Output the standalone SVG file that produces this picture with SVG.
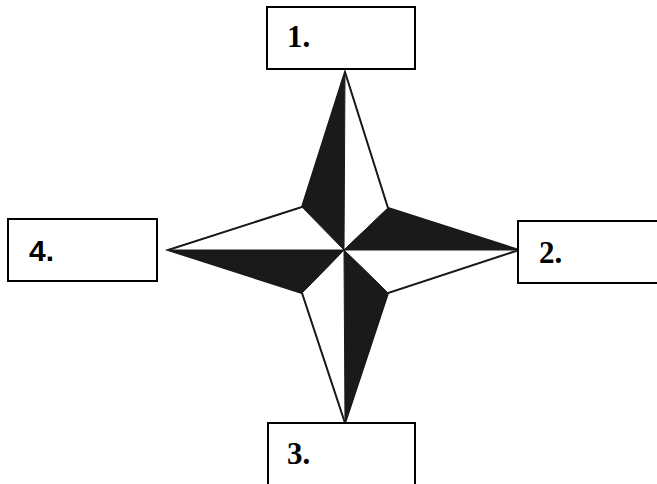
<svg xmlns="http://www.w3.org/2000/svg" width="657" height="484" viewBox="0 0 657 484">
<style>
.box{fill:#fff;stroke:#000;stroke-width:2}
.blk{fill:#1a1a1a;stroke:#1a1a1a;stroke-width:1;stroke-linejoin:round}
.wht{fill:#fff;stroke:#1a1a1a;stroke-width:1;stroke-linejoin:round}
.out{fill:none;stroke:#1a1a1a;stroke-width:2;stroke-linejoin:miter}
</style>
<rect width="657" height="484" fill="#fff"/>
<g id="star">
<polygon class="blk" points="344,250 345,72 302,207"/>
<polygon class="wht" points="344,250 345,72 388,208"/>
<polygon class="blk" points="344,250 519,250 388,208"/>
<polygon class="wht" points="344,250 519,250 388,293"/>
<polygon class="blk" points="344,250 345,423 388,293"/>
<polygon class="wht" points="344,250 345,423 302,293"/>
<polygon class="blk" points="344,250 168,250 302,293"/>
<polygon class="wht" points="344,250 168,250 302,207"/>
<polygon class="out" points="345,72 388,208 519,250 388,293 345,423 302,293 168,250 302,207"/>
</g>
<g id="node1">
<rect class="box" x="267" y="7" width="148" height="62"/>
<text x="287" y="47" font-family="Liberation Serif, Times New Roman, serif" font-weight="bold" font-size="31" fill="#000">1.</text>
</g>
<g id="node2">
<rect class="box" x="518" y="221" width="150" height="62"/>
<text x="539" y="263" font-family="Liberation Serif, Times New Roman, serif" font-weight="bold" font-size="31" fill="#000">2.</text>
</g>
<g id="node3">
<rect class="box" x="268" y="423" width="147" height="70"/>
<text x="287" y="464" font-family="Liberation Serif, Times New Roman, serif" font-weight="bold" font-size="31" fill="#000">3.</text>
</g>
<g id="node4">
<rect class="box" x="8" y="219" width="149" height="62"/>
<text x="29" y="261" font-family="Liberation Sans, Arial, sans-serif" font-weight="bold" font-size="30" fill="#000">4.</text>
</g>
</svg>
